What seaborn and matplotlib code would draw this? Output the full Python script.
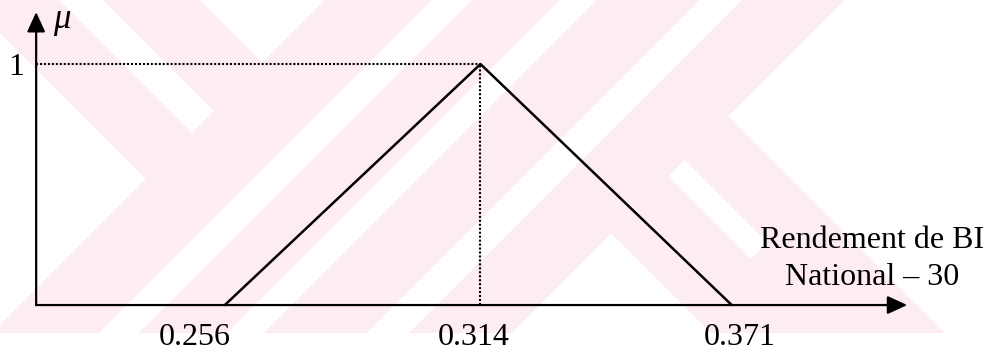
import numpy as np
import pandas as pd
import matplotlib
matplotlib.use("Agg")
import matplotlib.pyplot as plt
import seaborn as sns

# Triangular fuzzy number for the BI National-30 return
support = [0.256, 0.314, 0.371]
membership = [0.0, 1.0, 0.0]
tick_labels = ["0.256", "0.314", "0.371"]
peak_label = "1"
y_label = "μ"
x_label = ["Rendement de BI", "National – 30"]

sns.set_theme(style="white")
plt.rcParams["font.family"] = ["Liberation Serif", "DejaVu Serif"]

W, H = 987, 353
fig = plt.figure(figsize=(W / 100, H / 100), dpi=100)

# --- light watermark drawn behind the diagram (pixel space, supersampled) ---
bg = fig.add_axes([0, 0, 1, 1], zorder=0)
ss = 3
gy, gx = np.mgrid[0:H * ss, 0:W * ss]
px = (gx + 0.5) / ss
py = (gy + 0.5) / ss
s = px + py
d = px - py
upper_left = (s < 325) & (((d >= -33) & (d < 59)) | ((d >= 103) & (d < 200)))
gaps = ((s >= 432) & (s < 472)) | ((s >= 560) & (s < 597)) | ((s >= 700) & (s < 742))
main_arm = (s >= 325) & (s < 845) & ~gaps
leg = (s >= 845) & (d >= 378) & (d < 612) & ~((d >= 492) & (d < 525) & (s < 1010))
pink = (py < 333) & (upper_left | main_arm | leg)
cover = pink.reshape(H, ss, W, ss).mean(axis=(1, 3))
tint = np.array([253, 236, 240]) / 255.0
img = 1.0 - cover[..., None] * (1.0 - tint)
bg.imshow(img, extent=(0, W, H, 0), interpolation="bilinear", aspect="auto")
bg.set_xlim(0, W)
bg.set_ylim(H, 0)
bg.set_axis_off()

# --- membership diagram ---
ax = fig.add_axes([0, 0, 1, 1], zorder=1)
ax.patch.set_alpha(0)
ax.set_xlim(0.2050, 0.4289)
ax.set_ylim(-0.199, 1.266)
ax.set_axis_off()

x0 = 0.2132          # where the two arrows start
x_end = 0.4108       # tip of the horizontal arrow
y_end = 1.216        # tip of the vertical arrow

df = pd.DataFrame({"x": support, "mu": membership})
sns.lineplot(data=df, x="x", y="mu", sort=False, color="black",
             linewidth=1.8, ax=ax, legend=False)

arrow = dict(arrowstyle="-|>,head_length=1.2,head_width=0.55", mutation_scale=10,
             lw=1.6, color="black", shrinkA=0, shrinkB=0)
ax.annotate("", xy=(x_end, 0), xytext=(x0, 0), arrowprops=arrow)
ax.annotate("", xy=(x0, y_end), xytext=(x0, 0), arrowprops=arrow)

# dotted guides to the peak
i_peak = int(np.argmax(membership))
peak_x, peak_y = support[i_peak], membership[i_peak]
dots = dict(color="black", linewidth=1.5, linestyle=(0, (1, 0.9)))
ax.plot([x0, peak_x], [peak_y, peak_y], **dots)
ax.plot([peak_x, peak_x], [0, peak_y], **dots)

# value labels under the axis
for v, lab, dx in zip(support, tick_labels, [-30, -7, 8]):
    ax.annotate(lab, xy=(v, 0), xytext=(dx, -40), textcoords="offset pixels",
                ha="center", va="baseline", fontsize=23, color="black")

ax.annotate(peak_label, xy=(x0, peak_y), xytext=(-20, -11), textcoords="offset pixels",
            ha="center", va="baseline", fontsize=23, color="black")
ax.annotate(y_label, xy=(x0, y_end), xytext=(17, -16), textcoords="offset pixels",
            ha="left", va="baseline", fontsize=25, style="italic", color="black")

for line, dy in zip(x_label, [57, 20]):
    ax.annotate(line, xy=(x_end, 0), xytext=(-35, dy), textcoords="offset pixels",
                ha="center", va="baseline", fontsize=23, color="black")

fig.savefig("out.png", dpi=100)
